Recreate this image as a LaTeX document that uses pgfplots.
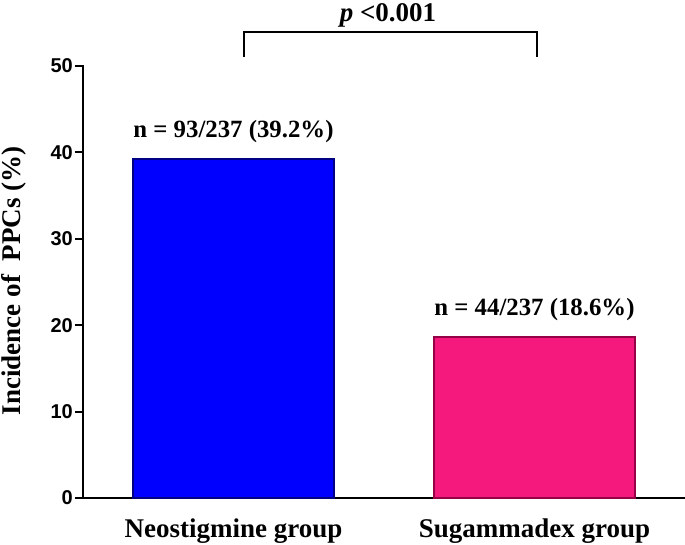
\documentclass[border=0pt]{standalone}
\usepackage{fontspec}
\setmainfont{Liberation Serif}
\newfontfamily\ticksf{Liberation Sans}
\usepackage{pgfplots}
\pgfplotsset{compat=1.18}

\definecolor{neoblue}{RGB}{0,0,255}
\definecolor{neoedge}{RGB}{0,0,130}
\definecolor{sugpink}{RGB}{245,24,125}
\definecolor{sugedge}{RGB}{150,0,70}

\begin{document}
\begin{tikzpicture}[x=1pt,y=1pt]
  % page = 685 x 545 px, 1pt per px
  \useasboundingbox (0,0) rectangle (685,545);
  \begin{axis}[
      at={(83pt,47pt)}, anchor=south west,
      scale only axis,
      width=602pt, height=432pt,
      ybar, bar width=201pt,
      xmin=-0.5, xmax=1.5,
      ymin=0, ymax=50,
      axis x line*=bottom, axis y line*=left,
      axis line style={line width=2.6pt, line cap=rect},
      ytick={0,10,20,30,40,50},
      xtick={0,1},
      xticklabels={Neostigmine group, Sugammadex group},
      x tick style={draw=none},
      y tick style={line width=2pt, black},
      tick align=outside,
      major tick length=8pt,
      /pgf/number format/assume math mode=true,
      yticklabel style={font=\ticksf\bfseries\fontsize{20}{20}\selectfont, inner xsep=2pt},
      xticklabel style={font=\bfseries\fontsize{27}{27}\selectfont, anchor=base, yshift=-32pt},
      point meta=explicit symbolic,
      nodes near coords,
      every node near coord/.append style={font=\bfseries\fontsize{24.8}{24.8}\selectfont, anchor=base, yshift=22pt, black},
      clip=false,
    ]
    \addplot[bar shift=0pt, fill=neoblue, draw=neoedge, line width=2pt]
      coordinates {(0,39.2) [n = 93/237 (39.2\%)]};
    \addplot[bar shift=0pt, fill=sugpink, draw=sugedge, line width=2pt]
      coordinates {(1,18.6) [n = 44/237 (18.6\%)]};
  \end{axis}
  % y label
  \node[rotate=90, anchor=base, inner sep=0pt, font=\bfseries\fontsize{27}{27}\selectfont]
    at (20,264) {Incidence of\ \ PPCs (\%)};
  % significance bracket
  \draw[line width=2pt] (244,488) -- (244,513) -- (537,513) -- (537,488);
  \node[anchor=base, inner sep=0pt, font=\bfseries\fontsize{27}{27}\selectfont]
    at (388,523) {\textit{p} <0.001};
\end{tikzpicture}
\end{document}
